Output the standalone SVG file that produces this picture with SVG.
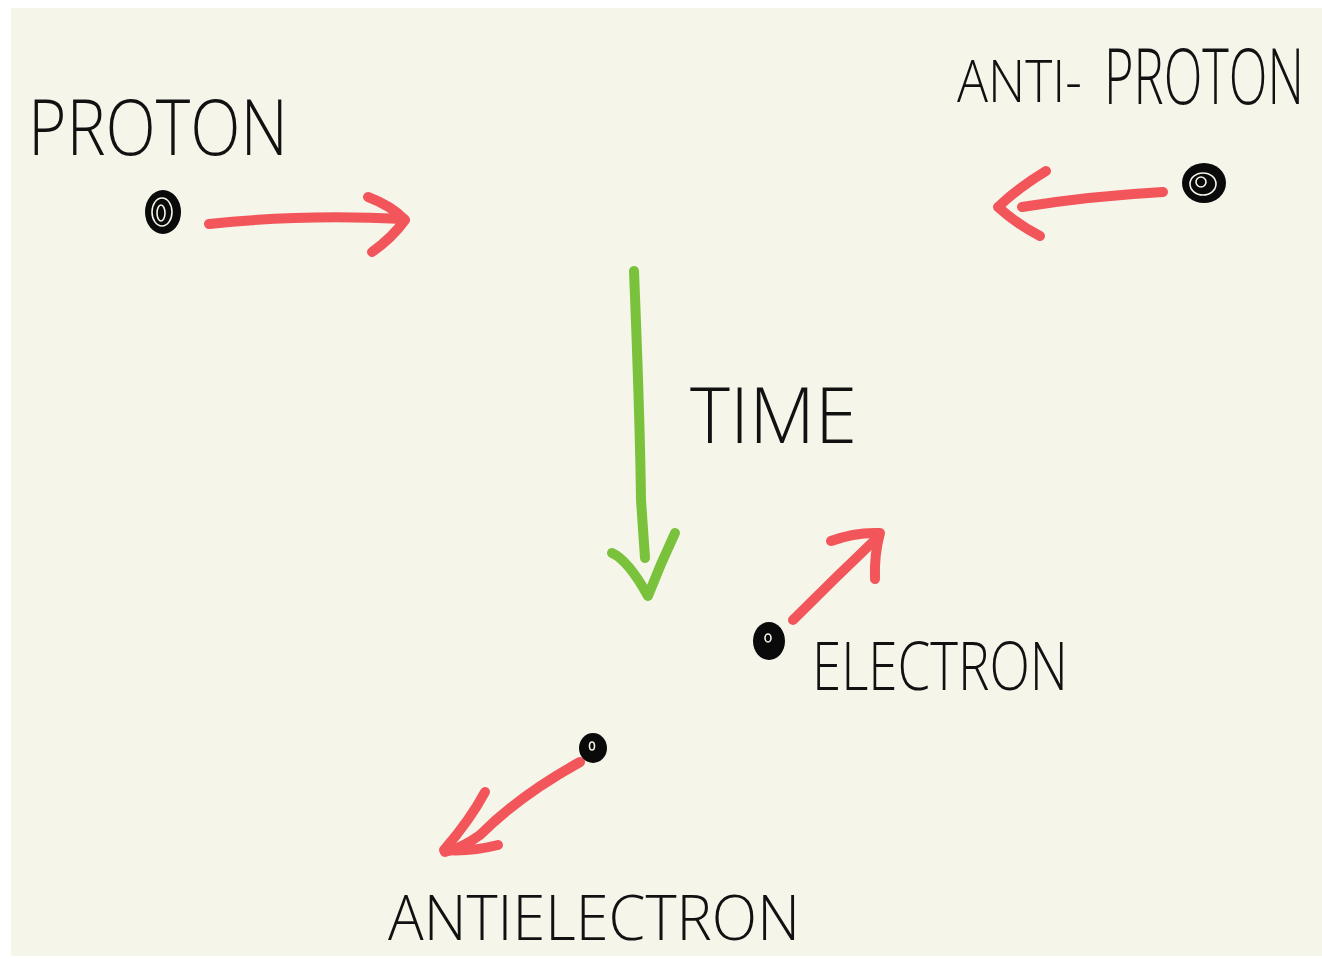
<svg xmlns="http://www.w3.org/2000/svg" width="1322" height="959" viewBox="0 0 1322 959">
<style>
.lbl{font-family:"Open Sans","Liberation Sans",sans-serif;font-weight:300;fill:#111}
.red{fill:none;stroke:#f2555a;stroke-width:10;stroke-linecap:round;stroke-linejoin:round}
.green{fill:none;stroke:#7bc23c;stroke-width:10;stroke-linecap:round;stroke-linejoin:round}
.dot{fill:#0a0a0a}
.ring{fill:none;stroke:#f5f5ea;stroke-width:1.6}
</style>
<rect x="0" y="0" width="1322" height="959" fill="#ffffff"/>
<rect x="11" y="8" width="1311" height="948" fill="#f5f5ea"/>
<g id="connectors">
  <path class="red" d="M209,224 Q300,214 404,219"/>
  <path class="red" d="M368,197 Q392,206 405,220 Q392,238 372,252"/>
  <path class="red" d="M1163,192 Q1090,196 1022,207"/>
  <path class="red" d="M1046,171 Q1018,188 998,207 Q1018,225 1040,236"/>
  <path class="green" d="M634,271 Q640,420 641,500 Q643,530 645,558"/>
  <path class="green" d="M612,553 Q628,560 648,596 Q660,565 675,533"/>
  <path class="red" d="M793,620 Q835,578 878,537"/>
  <path class="red" d="M831,541 Q855,532 880,533 Q874,555 875,579"/>
  <path class="red" d="M580,762 Q520,795 480,835 Q462,848 445,852"/>
  <path class="red" d="M485,792 Q470,820 444,850 Q470,852 498,845"/>
</g>
<g id="proton">
  <text class="lbl" x="28" y="155" font-size="77" textLength="260" lengthAdjust="spacingAndGlyphs">PROTON</text>
  <ellipse class="dot" cx="163" cy="212" rx="18" ry="22"/>
  <ellipse class="ring" cx="162" cy="212" rx="10" ry="14"/>
  <ellipse class="ring" cx="161" cy="213" rx="4" ry="8"/>
</g>
<g id="antiproton">
  <text class="lbl" x="957" y="102" font-size="59" textLength="125" lengthAdjust="spacingAndGlyphs">ANTI-</text>
  <text class="lbl" transform="translate(1104,104) scale(0.66,1)" x="0" y="0" font-size="78" textLength="303" lengthAdjust="spacingAndGlyphs">PROTON</text>
  <ellipse class="dot" cx="1204" cy="183" rx="22" ry="20"/>
  <ellipse class="ring" cx="1203" cy="184" rx="13" ry="11"/>
  <ellipse class="ring" cx="1201" cy="182" rx="5" ry="5"/>
</g>
<g id="time">
  <text class="lbl" x="690" y="443" font-size="77" textLength="167" lengthAdjust="spacingAndGlyphs">TIME</text>
</g>
<g id="electron">
  <ellipse class="dot" cx="769" cy="641" rx="16" ry="19"/>
  <ellipse class="ring" cx="768" cy="638" rx="3" ry="4"/>
  <text class="lbl" x="812" y="690" font-size="66" textLength="256" lengthAdjust="spacingAndGlyphs">ELECTRON</text>
</g>
<g id="antielectron">
  <ellipse class="dot" cx="593" cy="748" rx="14" ry="15"/>
  <ellipse class="ring" cx="592" cy="746" rx="2.5" ry="4"/>
  <text class="lbl" x="388" y="940" font-size="62" textLength="412" lengthAdjust="spacingAndGlyphs">ANTIELECTRON</text>
</g>
</svg>
